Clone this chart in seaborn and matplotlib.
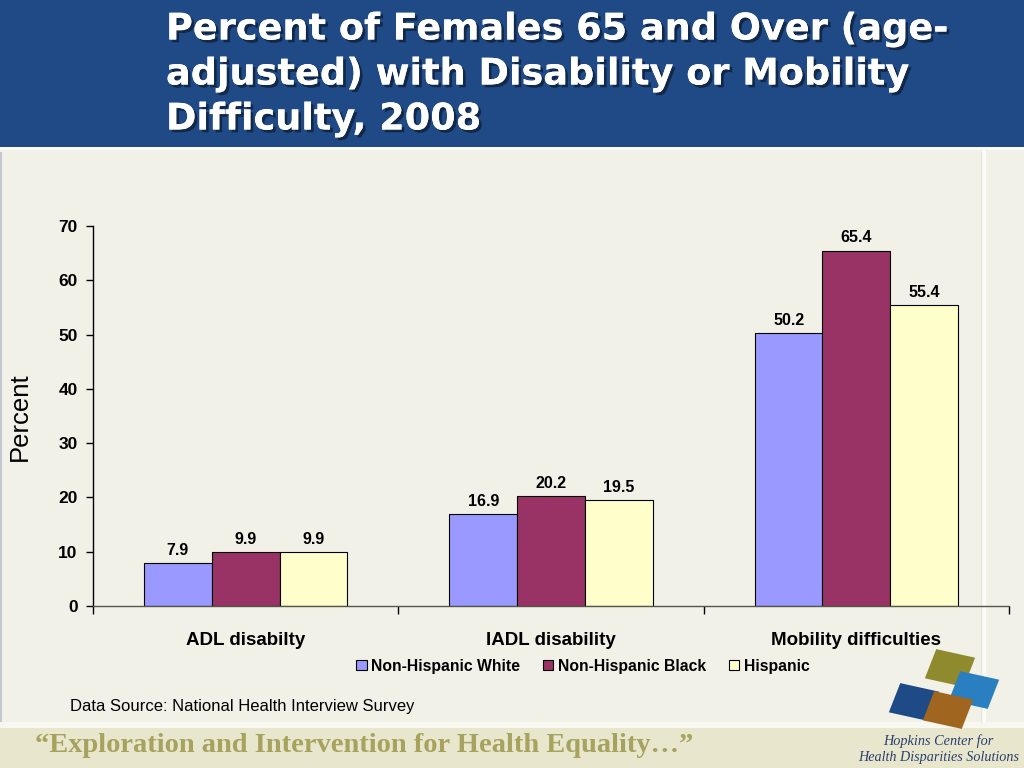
import matplotlib
matplotlib.use('Agg')
import matplotlib.pyplot as plt
import matplotlib.patheffects as pe
from matplotlib.patches import Rectangle, Patch, RegularPolygon
from matplotlib.lines import Line2D
import seaborn as sns
import pandas as pd

# ---------------------------------------------------------------
# data
# ---------------------------------------------------------------
categories = ['ADL disabilty', 'IADL disability', 'Mobility difficulties']
groups = ['Non-Hispanic White', 'Non-Hispanic Black', 'Hispanic']
white_vals = [7.9, 16.9, 50.2]
black_vals = [9.9, 20.2, 65.4]
hispanic_vals = [9.9, 19.5, 55.4]
y_ticks = [0, 10, 20, 30, 40, 50, 60, 70]

title_lines = ['Percent of Females 65 and Over (age-',
               'adjusted) with Disability or Mobility',
               'Difficulty, 2008']

# colours
COLORS = ['#9999ff', '#993366', '#ffffcc']
HEADER = '#1f4a86'
BG = '#f2f1e8'
FOOTER = '#e8e7cd'

df = pd.DataFrame({
    'Category': categories * 3,
    'Group': [g for g in groups for _ in categories],
    'Percent': white_vals + black_vals + hispanic_vals,
})

sns.set_theme(style='white')
plt.rcParams['font.family'] = ['Liberation Sans', 'DejaVu Sans']
plt.rcParams['text.color'] = 'black'
plt.rcParams['xtick.color'] = 'black'
plt.rcParams['ytick.color'] = 'black'
plt.rcParams['axes.labelcolor'] = 'black'

W, H = 1024, 768
fig = plt.figure(figsize=(10.24, 7.68), dpi=100, facecolor=BG)


def fx(px):
    return px / W


def fy(py):
    return 1 - py / H


# ---------------------------------------------------------------
# slide decoration
# ---------------------------------------------------------------
fig.add_artist(Rectangle((0, fy(147)), 1, 147 / H, transform=fig.transFigure,
                         facecolor=HEADER, edgecolor='none', zorder=0))
fig.add_artist(Rectangle((0, fy(150)), 1, 3 / H, transform=fig.transFigure,
                         facecolor='#fbfbf6', edgecolor='none', zorder=0))
fig.add_artist(Rectangle((0, 0), 1, 46 / H, transform=fig.transFigure,
                         facecolor=FOOTER, edgecolor='none', zorder=0))
fig.add_artist(Rectangle((0, fy(728)), 1, 6 / H, transform=fig.transFigure,
                         facecolor='#f8f8f1', edgecolor='none', zorder=0))
fig.add_artist(Rectangle((0, fy(722)), 2 / W, 570 / H, transform=fig.transFigure,
                         facecolor='#c3c6d4', edgecolor='none', zorder=0))
fig.add_artist(Line2D([fx(984), fx(984)], [fy(152), fy(722)],
                      transform=fig.transFigure, color='#fbfbf7', lw=3, zorder=0))
fig.add_artist(Line2D([fx(981), fx(981)], [fy(152), fy(722)],
                      transform=fig.transFigure, color='#e6e5dc', lw=1, zorder=0))

for i, line in enumerate(title_lines):
    fig.text(fx(166), fy(29 + 45 * i), line, color='white', fontsize=26.4,
             fontweight='bold', family='DejaVu Sans', ha='left', va='center',
             path_effects=[pe.withSimplePatchShadow(offset=(2, -2),
                                                    shadow_rgbFace='black',
                                                    alpha=0.45),
                           pe.Normal()])

# ---------------------------------------------------------------
# chart
# ---------------------------------------------------------------
ax = fig.add_axes([fx(93), fy(606), fx(1009) - fx(93), 380 / H])
ax.set_facecolor('none')

sns.barplot(data=df, x='Category', y='Percent', hue='Group', order=categories,
            hue_order=groups, palette=COLORS, saturation=1, width=0.665,
            edgecolor='black', linewidth=0.8, legend=False, ax=ax)

for cont in ax.containers:
    ax.bar_label(cont, fmt='%.1f', padding=4, fontsize=11.5, fontweight='bold')

ax.set_xlim(-0.5, 2.5)
ax.set_ylim(0, 70)
ax.set_yticks(y_ticks)
ax.set_yticklabels([str(t) for t in y_ticks], fontweight='bold')
ax.set_xticks(range(len(categories)))
ax.set_xticklabels(categories, fontweight='bold')
ax.set_xticks([-0.5, 0.5, 1.5, 2.5], minor=True)
ax.set_xlabel('')
ax.set_ylabel('')

for s in ['top', 'right']:
    ax.spines[s].set_visible(False)
ax.spines['left'].set_color('black')
ax.spines['left'].set_linewidth(1)
ax.spines['bottom'].set_color('#55554a')
ax.spines['bottom'].set_linewidth(1)

ax.tick_params(axis='y', direction='out', left=True, length=5, width=1,
               pad=6, labelsize=12.5, color='black')
ax.tick_params(axis='x', which='major', bottom=True, length=0, pad=19,
               labelsize=13.5)
ax.tick_params(axis='x', which='minor', bottom=True, direction='out',
               length=6, width=1, color='black')

fig.text(fx(20), fy(417), 'Percent', rotation=90, fontsize=18.5,
         ha='center', va='center')

handles = [Patch(facecolor=c, edgecolor='black', linewidth=0.8) for c in COLORS]
fig.legend(handles, groups, loc='center', bbox_to_anchor=(fx(583), fy(666)),
           ncol=3, frameon=False, prop={'weight': 'bold', 'size': 11.3},
           handlelength=0.65, handleheight=0.65, handletextpad=0.3,
           columnspacing=1.45)

fig.text(fx(70), fy(707), 'Data Source: National Health Interview Survey',
         fontsize=12, ha='left', va='center')

# footer
fig.text(fx(35), fy(746),
         '\u201cExploration and Intervention for Health Equality\u2026\u201d',
         family='Liberation Serif', fontweight='bold', fontsize=20.5,
         color='#a7a35e', ha='left', va='center')

# logo pieces
for (cx, cy, col) in [(950, 668, '#8f8a2e'), (974, 690, '#2a7fc0'),
                      (914, 702, '#1e4a86'), (948, 710, '#a0651e')]:
    fig.add_artist(RegularPolygon((fx(cx), fy(cy)), numVertices=4,
                                  radius=0.028, orientation=0.5,
                                  transform=fig.transFigure, facecolor=col,
                                  edgecolor='none', zorder=1))
fig.text(fx(938), fy(741), 'Hopkins Center for', family='Liberation Serif',
         style='italic', fontsize=10.3, color='#2b3f6e', ha='center',
         va='center')
fig.text(fx(939), fy(757), 'Health Disparities Solutions',
         family='Liberation Serif', style='italic', fontsize=10.2,
         color='#2b3f6e', ha='center', va='center')

fig.savefig('out.png', dpi=100, facecolor=BG)
